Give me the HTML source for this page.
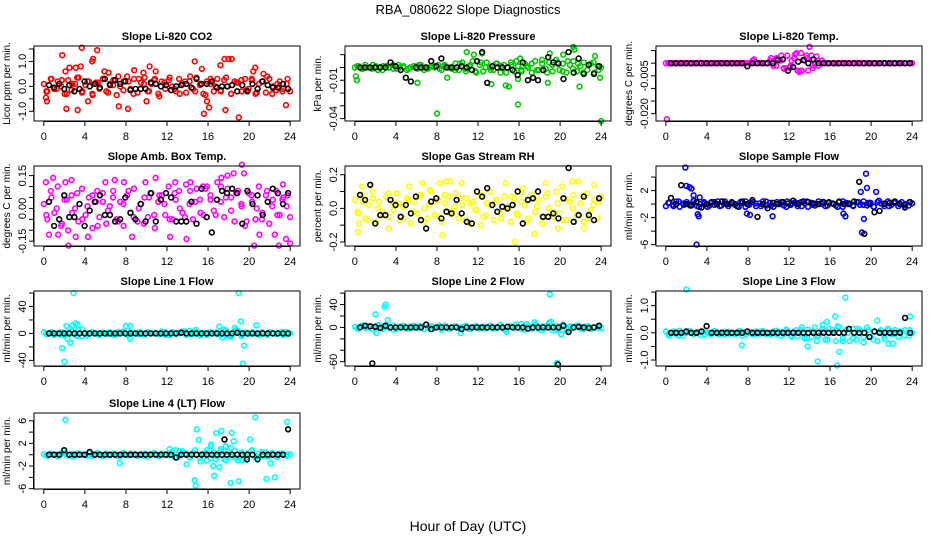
<!DOCTYPE html>
<html><head><meta charset="utf-8">
<style>
html,body{margin:0;padding:0;background:#fff;}
svg{display:block;font-family:"Liberation Sans",sans-serif;}
</style></head>
<body>
<svg id="chart" width="936" height="540" viewBox="0 0 936 540" xmlns="http://www.w3.org/2000/svg">
<rect width="936" height="540" fill="#fff"/>
<text x="468" y="14" text-anchor="middle" font-size="13">RBA_080622  Slope Diagnostics</text>
<text x="468" y="531" text-anchor="middle" font-size="14">Hour of Day (UTC)</text>
</svg>
<script>
// ---- data ----
const hourTicks = [0,4,8,12,16,20,24];

const co2Main = [0.1,-0.2,0.3,-0.1,0.2,0.0,-0.3,0.25,-0.15,0.1,0.35,-0.25,0.05,0.2,-0.3,0.15,-0.1,0.3,-0.2,0.1,0.25,-0.35,0.0,0.2,0.4,-0.1,0.3,-0.25,0.15,0.35,-0.2,0.1,0.3,-0.3,0.2,-0.1,0.25,0.0,-0.2,0.3,0.1,-0.25,0.2,-0.1,0.35,0.05,-0.3,0.2,0.1,-0.2,0.3,-0.15,0.25,0.0,-0.3,0.2,0.15,-0.2,0.3,-0.1,0.25,-0.3,0.1,0.2,-0.25,0.3,0.0,-0.15,0.2,-0.1,0.1,-0.2];
const co2Dense = [-0.2,0.3,-0.1,0.25,-0.3,0.1,0.35,-0.2,0.2,-0.35,0.15,0.3,-0.25,0.05,0.4,-0.15,0.2,-0.3,0.3,0.1,-0.2,0.25,-0.4,0.15,0.35,-0.1,-0.3,0.2,0.4,-0.2,0.1,-0.35,0.3,0.0,-0.2,0.35,-0.3,0.15,0.25,-0.15,0.3,-0.25,0.2,0.4,-0.3,0.1,-0.2,0.3];
const co2OutHours = [0.2,0.3,1.8,2.1,2.2,2.5,3.1,3.3,3.7,3.6,4.3,4.7,4.8,5.2,5.9,6.3,7.3,8.2,8.8,9.7,10.0,10.3,10.9,14.7,15.4,15.6,15.9,16.1,17.2,17.7,17.6,18.0,18.3,19.0,20.6,20.4,21.4,23.6];
const co2OutVals = [-0.45,-0.6,1.25,0.6,-0.9,0.75,0.75,-0.95,1.55,0.8,-0.6,1.0,1.1,1.45,0.6,0.55,-0.8,-0.9,0.65,0.55,-0.6,0.8,0.6,1.0,0.7,-1.1,-0.6,-0.85,0.85,-0.95,1.1,1.1,1.1,-1.25,0.75,0.6,0.5,-0.75];
const co2Black = [0.05,-0.05,0.1,-0.1,0.05,-0.2,-0.1,0.2,0.0,0.1,-0.05,0.3,0.05,0.25,0.1,0.2,-0.15,-0.1,-0.1,-0.1,0.15,0.1,0.0,0.05,-0.15,0.0,0.05,0.1,-0.05,0.3,0.1,0.1,0.2,-0.05,0.0,0.0,0.05,-0.2,0.05,-0.2,0.1,-0.1,0.2,0.05,-0.05,-0.05,0.1,-0.1];

const presMain = [0,0.001,-0.001,0.002,0,-0.001,0.001,0,-0.002,0.001,0,0.002,-0.001,0,0.001,-0.002,0,0.001,-0.001,0.002,0,-0.001,0.001,0,0.002,-0.002,0.001,0,-0.001,0.003,-0.002,0.004,-0.003,0.001,0.005,-0.004,0.002,-0.003,0.004,0,-0.002,0.003,-0.004,0.002,0,0.004,-0.003,0.001,-0.002,0.003,0,-0.004,0.005,-0.002,0.003,-0.001,0.004,-0.003,0.006,-0.002,0.003,-0.004,0.002,0.005,-0.003,0.001,0.004,-0.002,0.003,-0.004,0.001,0];
const presDense = [0.001,-0.001,0,0.002,-0.002,0.001,0,-0.001,0.002,0,-0.001,0.001,0.002,-0.002,0,0.001,-0.001,0.002,0,-0.002,0.003,-0.001,0.002,-0.003,0.004,0,-0.002,0.003,0.001,-0.004,0.002,0.005,-0.003,0.001,0.003,-0.002,0.006,-0.004,0.002,0.004,-0.003,0.005,-0.001,0.003,-0.004,0.002,0.004,-0.002];
const presOutHours = [0.1,0.2,6.1,8.0,9.0,10.9,11.6,12.4,13.3,14.7,15.0,15.9,15.9,16.1,18.8,19.0,20.3,21.3,21.4,21.9,23.4,23.9,24.0];
const presOutVals = [-0.007,-0.010,-0.012,-0.036,-0.008,0.012,0.010,0.011,-0.013,-0.014,-0.015,-0.009,-0.029,0.007,-0.012,0.011,0.010,0.016,0.014,-0.015,0.009,-0.008,-0.042];
const presBlack = [0,0,0,0,0,0,0.004,0.001,-0.002,-0.008,-0.011,0,0,0,0.005,0.001,0.007,0,0,0,0.001,0,-0.002,0.005,0.012,-0.012,0.001,0,0,0,-0.002,-0.006,0.004,-0.010,-0.008,-0.010,-0.002,0.008,0.004,0.003,-0.009,0.012,-0.004,0.007,-0.005,0.002,-0.005,0.001];

const tempMain = [0,0,0,0,0,0,0,0,0,0,0,0,0,0,0,0,0,0,0,0,0,0,0,0,0,0.001,0,0,0,0,0.001,-0.001,0.002,0.001,-0.002,0.003,-0.001,0.002,-0.003,0.004,0.001,-0.003,0.003,0,-0.001,0.001,0,0,0,0,0,0,0,0,0,0,0,0,0,0,0,0,0,0,0,0,0,0,0,0,0,0];
const tempDense = [0,0,0,0,0,0,0,0,0,0,0,0,0,0,0,0,0,0,0,0,0.002,-0.001,0.003,-0.002,0.001,0.004,-0.003,0.002,-0.001,0.001,0,0,0,0,0,0,0,0,0,0,0,0,0,0,0,0,0,0];
const tempOutHours = [0.1,8.6,10.8,11.5,12.1,12.6,13.0,13.2,13.7,14.0,14.3,14.7];
const tempOutVals = [-0.0222,0.0015,0.0015,-0.0022,-0.0016,0.0035,-0.0035,-0.003,0.003,0.0065,-0.002,0.0027];
const tempBlack = [0,0,0,0,0,0,0,0,0,0,0,0,0,0,0,-0.0012,0,0,0,0,0,0.0012,0.0015,-0.003,-0.0015,0.0006,0.0012,0,0.0015,0,0,0,0,0,0,0,0,0,0,0,0,0,0,0,0,0,0,0];

const ambMain = [0.02,-0.05,0.08,-0.02,0.1,-0.08,0.04,-0.1,0.06,0.0,-0.06,0.09,-0.03,0.05,-0.09,0.03,-0.04,0.07,-0.07,0.01,0.08,-0.05,0.03,-0.08,0.06,-0.02,0.09,-0.06,0.02,0.05,-0.04,0.07,-0.09,0.03,0.06,-0.03,0.1,-0.05,0.04,0.08,-0.02,0.11,0.02,-0.05,0.09,0.04,-0.03,0.1,0.06,-0.01,0.12,0.03,-0.04,0.09,0.05,-0.06,0.08,0.01,-0.08,0.07,0.03,-0.05,0.1,-0.02,0.06,-0.07,0.04,0.08,-0.03,0.05,0.01,-0.04];
const ambDense = [-0.03,0.05,0.0,-0.07,0.04,-0.02,0.07,-0.05,0.01,0.06,-0.08,0.03,-0.01,0.05,-0.06,0.02,0.08,-0.04,0.0,-0.07,0.05,-0.03,0.06,0.02,-0.05,0.07,0.0,-0.04,0.08,0.03,-0.02,0.09,0.04,-0.03,0.1,0.05,-0.01,0.07,0.02,-0.06,0.06,0.0,-0.05,0.08,0.01,-0.03,0.04,0.06];
const ambOutHours = [0.2,0.5,0.9,1.4,2.1,2.4,2.7,3.1,4.3,5.2,6.0,6.9,7.8,8.6,9.9,10.9,12.3,12.8,13.9,14.3,15.5,17.3,17.9,18.5,19.3,19.5,20.5,21.0,22.5,22.9,23.3,23.6,24.0];
const ambOutVals = [0.12,-0.12,0.14,-0.12,0.12,-0.17,0.13,-0.13,-0.13,0.08,0.12,0.13,0.12,-0.13,0.12,0.14,-0.13,0.12,-0.14,0.12,0.1,0.14,0.15,0.16,0.2,0.16,-0.17,-0.12,-0.12,-0.17,0.11,-0.14,-0.16];
const ambBlack = [0.03,-0.08,-0.05,0.06,-0.04,-0.04,0.02,-0.08,-0.01,0.03,0.06,-0.03,-0.03,-0.06,-0.05,0.05,-0.02,-0.05,0.02,-0.06,0.07,-0.06,0.04,0.07,0.05,-0.06,-0.06,-0.06,0.03,-0.07,0.09,-0.04,-0.11,0.04,0.08,0.07,0.09,0.07,-0.07,0.08,0.02,0.06,-0.03,0.03,0.09,0.07,0.02,0.07];

const rhMain = [0.05,-0.03,0.08,-0.06,0.02,0.1,-0.08,0.04,-0.02,0.07,-0.05,0.03,0.09,-0.07,0.01,0.06,-0.09,0.04,-0.03,0.08,0.0,-0.06,0.1,-0.04,0.05,-0.08,0.03,0.07,-0.02,0.09,-0.06,0.02,0.06,-0.09,0.04,-0.01,0.08,-0.05,0.03,0.1,-0.07,0.05,-0.03,0.07,0.01,-0.08,0.06,-0.04,0.09,0.02,-0.06,0.08,-0.02,0.05,-0.09,0.07,0.0,-0.05,0.1,-0.03,0.06,-0.07,0.04,0.08,-0.04,0.03,-0.08,0.09,-0.01,0.05,-0.06,0.07];
const rhDense = [-0.02,0.04,-0.07,0.06,0.0,-0.04,0.09,-0.01,0.03,-0.06,0.05,-0.02,0.07,-0.08,0.02,0.04,-0.05,0.08,-0.03,0.01,0.06,-0.07,0.03,-0.01,0.08,-0.04,0.02,0.05,-0.06,0.0,0.07,-0.03,0.04,-0.08,0.06,0.01,-0.05,0.09,-0.02,0.03,-0.07,0.05,0.0,-0.04,0.08,-0.06,0.02,0.04];
const rhOutHours = [0.3,0.4,0.7,3.3,5.3,6.6,7.3,8.3,8.5,8.9,9.3,10.4,12.3,14.7,15.6,16.4,17.5,18.6,19.8,20.2,21.2,21.8,22.3,23.3];
const rhOutVals = [-0.14,-0.09,0.13,-0.12,0.13,0.15,0.11,0.15,-0.16,0.16,0.16,0.15,-0.1,0.15,-0.2,0.12,-0.15,0.15,-0.12,0.13,0.16,0.16,-0.12,0.14];
const rhBlack = [0.08,0.05,0.14,-0.09,-0.04,-0.04,0.05,0.02,-0.05,0.02,-0.03,0.07,-0.07,-0.12,0.04,0.06,-0.06,-0.02,-0.03,0.05,-0.03,-0.08,-0.09,0.1,0.07,0.12,0.02,-0.02,0.01,0.0,0.02,0.1,-0.09,0.05,0.06,0.1,-0.05,-0.05,-0.03,-0.06,0.06,0.24,-0.08,-0.04,0.07,-0.04,-0.07,0.06];

const sampleMain = [-0.3,0.2,-0.1,0.4,-0.4,0.1,0.3,-0.2,0.5,-0.3,0.0,0.3,-0.4,0.2,-0.1,0.4,-0.2,0.1,-0.3,0.3,0.0,-0.4,0.2,0.4,-0.1,0.3,-0.3,0.1,0.4,-0.2,0.2,-0.4,0.3,0.0,-0.2,0.4,-0.1,0.2,-0.3,0.3,0.1,-0.4,0.2,-0.2,0.4,0.0,-0.3,0.3,0.1,-0.2,0.4,-0.4,0.2,0.0,-0.3,0.3,-0.1,0.4,-0.2,0.2,-0.4,0.3,0.1,-0.3,0.4,-0.1,0.2,-0.3,0.3,0.0,-0.2,0.1];
const sampleDense = [0.2,-0.3,0.4,-0.1,0.0,0.5,-0.4,0.1,-0.2,0.3,-0.3,0.4,0.0,-0.1,0.3,-0.4,0.2,0.1,-0.3,0.4,-0.2,0.0,0.3,-0.4,0.1,0.2,-0.3,0.4,-0.1,0.0,0.3,-0.2,0.1,-0.4,0.4,0.0,-0.2,0.3,-0.1,0.2,-0.4,0.5,0.0,-0.3,0.2,0.1,-0.2,0.3];
const sampleOutHours = [1.9,2.0,2.3,2.5,2.7,3.0,3.1,3.2,3.3,7.9,8.2,10.4,17.3,17.5,19.0,19.1,19.3,19.5,19.6,20.5];
const sampleOutVals = [5.4,2.7,2.5,2.3,1.3,-6.0,-1.5,-1.8,1.0,-1.4,-1.6,-1.8,-1.4,-1.8,1.8,-4.2,-2.2,4.5,2.4,1.8];
const sampleBlack = [0.9,0.0,2.8,0.0,-0.2,0.3,-0.5,0.0,0.3,0.0,0.4,0.0,0.2,-0.3,0.4,0.0,0.6,-1.9,0.0,-0.6,0.2,0.0,0.3,0.1,0.5,0.0,0.4,0.3,0.1,0.0,0.3,0.2,0.0,0.3,0.0,0.1,0.4,3.3,-4.4,0.0,-1.2,-1.0,0.1,0.2,0.4,0.0,-0.5,0.3];

const l1Main = [2,-1,1,-2,0,2,-3,1,4,-2,5,-4,1,-1,2,0,-2,1,-1,2,0,-1,1,3,-2,2,0,-1,1,-2,2,0,1,-1,3,-2,0,2,-1,1,3,-2,4,-1,2,0,1,-2,2,0,-1,3,6,-3,-5,2,4,-4,1,-1,2,0,-2,1,-1,2,0,-1,1,-2,2,0];
const l1Dense = [-1,2,0,-2,1,3,-4,6,-3,2,-1,1,0,-2,2,1,-1,0,2,-2,1,0,-1,2,-2,1,0,3,-1,2,-3,0,2,1,-2,4,-3,5,-2,1,0,-1,2,-2,1,0,2,-1];
const l1OutHours = [1.8,2.0,2.2,2.3,2.6,2.8,2.9,3.1,3.3,8.0,8.4,8.4,14.8,17.1,17.4,18.6,19.0,19.2,19.4,19.5,20.7];
const l1OutVals = [-22,-42,11,-8,-14,12,60,15,13,11,11,-8,5,10,-6,8,60,18,-45,-18,12];
const l1Black = [0,0,0,0,0,0,0,0,0,0,0,0,0,0,0,0,0,0,0,0,0,0,0,0,0,0,1,0,0,0,0,0,0,0,0,0,0,1,0,0,0,0,0,0,0,0,0,0];

const l2Main = [1,-2,3,-1,2,-3,0,4,-2,1,-1,3,-3,2,0,-2,1,3,-1,2,-3,0,2,-1,1,-4,3,-2,0,2,-1,1,3,-3,0,2,-2,1,-1,3,-2,0,4,-3,1,2,-1,0,6,-4,3,-2,5,-3,2,-1,8,-5,3,-2,4,-6,2,-1,3,-2,1,2,-3,0,2,-1];
const l2Dense = [-2,3,0,-3,4,-1,2,-4,1,3,-2,0,2,-3,1,-1,3,0,-2,2,-1,1,-3,2,0,-2,3,-1,4,-4,2,5,-3,6,-2,3,-5,4,0,-4,5,-2,1,3,-3,2,0,-1];
const l2OutHours = [2.0,2.1,2.9,3.0,3.2,10.3,14.8,17.5,19.0,19.1,19.7,20.1];
const l2OutVals = [23,-10,36,40,13,-10,-8,9,58,10,-62,-12];
const l2Black = [0,3,2,1,-1,3,0,0,0,0,0,0,0,5,-3,0,0,0,0,0,-3,0,0,0,0,0,0,0,0,1,0,0,0,-2,0,0,0,0,0,0,3,-8,0,1,0,-1,0,3];
const l2BlackOutHours = [1.7,19.8];
const l2BlackOutVals = [-63,-65];

const l3Main = [0.05,-0.1,0.0,-0.05,0.08,-0.1,0.0,0.05,-0.05,0.03,-0.08,0.05,0.0,-0.05,0.06,-0.04,0.02,-0.06,0.04,0.0,-0.05,0.05,-0.1,0.03,0.0,-0.06,0.05,-0.03,0.06,-0.05,0.0,0.05,-0.06,0.04,-0.05,0.08,-0.1,0.05,-0.12,0.1,-0.2,0.12,-0.15,0.2,-0.1,0.05,-0.25,0.15,0.0,-0.3,0.2,-0.2,0.1,-0.3,0.15,-0.25,0.1,-0.35,0.2,-0.15,0.05,-0.3,0.1,-0.2,0.15,-0.05,0.1,-0.15,0.05,0.1,-0.1,0.0];
const l3Dense = [-0.05,0.05,-0.1,0.0,0.06,-0.04,0.03,-0.06,0.0,0.05,-0.05,0.04,-0.03,0.0,0.06,-0.05,0.02,-0.04,0.05,0.0,-0.06,0.08,-0.1,0.12,-0.15,0.1,0.2,-0.2,0.05,-0.1,0.15,-0.25,0.1,0.25,-0.3,0.0,-0.2,0.15,-0.15,0.1,-0.25,0.05,-0.1,0.1,-0.05,0.05,-0.1,0.1];
const l3OutHours = [2.0,7.4,13.8,14.7,14.8,15.3,15.7,16.5,16.7,16.9,17.5,20.6,21.7,22.1,23.8];
const l3OutVals = [1.6,-0.45,-0.5,-0.3,-1.05,0.3,0.4,0.6,-1.2,-0.7,1.3,0.45,-0.4,-0.4,0.6];
const l3Black = [0.0,0.0,0.0,0.05,0.0,0.0,0.05,0.25,0.0,0.0,0.0,0.0,0.0,0.0,0.0,0.05,0.0,0.0,0.0,0.0,0.0,0.0,0.0,0.0,0.0,0.0,0.0,0.0,0.0,0.0,0.0,0.0,0.0,0.0,0.0,0.15,0.0,0.0,0.0,-0.15,0.05,0.0,0.0,0.0,0.0,0.0,0.55,0.0];

const l4Main = [0.1,-0.2,0.2,0.0,-0.3,0.2,0.3,-0.1,0.1,-0.2,0.2,0.0,-0.1,0.3,-0.2,0.1,0.0,-0.3,0.2,-0.1,0.1,0.0,-0.2,0.3,-0.1,0.2,0.0,-0.2,0.1,0.2,-0.3,0.1,0.0,-0.2,0.2,0.1,-0.1,0.5,0.8,-0.3,0.6,0.2,-0.4,0.3,0.1,-0.5,0.2,0.8,-0.6,0.4,-0.3,1.0,-0.8,0.5,-0.4,0.7,-1.0,0.4,-0.6,0.3,0.8,-0.5,0.2,-0.3,0.4,-0.2,0.1,-0.3,0.2,0.0,-0.2,0.1];
const l4Dense = [-0.2,0.1,0.0,0.3,-0.1,-0.3,0.2,0.0,-0.2,0.1,0.3,-0.1,0.0,0.2,-0.3,0.1,-0.1,0.2,0.0,-0.2,0.1,0.3,-0.2,0.0,1.0,-0.4,0.6,0.2,-0.5,0.8,-1.2,0.3,1.5,-0.8,0.6,-1.0,1.2,-0.6,0.4,-0.9,0.7,-0.3,0.5,-0.2,0.3,-0.4,0.2,0.0];
const l4OutHours = [2.1,7.4,13.9,14.7,14.8,14.9,15.1,15.9,16.3,16.5,16.6,16.8,17.1,17.3,17.7,18.2,18.3,18.5,19.0,19.3,20.1,20.6,21.7,22.1,22.5,23.7];
const l4OutVals = [6.2,-1.5,-1.7,-4.5,-5.5,4.5,2.6,-1.0,1.8,-2.0,-3.7,3.8,-2.2,4.2,1.5,-5.0,3.9,2.4,-4.7,-1.0,2.7,6.6,-4.3,-1.5,-4.0,5.8];
const l4Black = [0,0,0,0.8,0,0,0,0,0.5,0,0,0,0,0,0,0,0,0,0,0,0,0,0,0,0,-0.5,0,0,0,0,0,0,0,0,0,0,0,0,0,0,0,-0.8,0,0,0,0,0,4.5];
const l4BlackOutHours = [17.6,19.8];
const l4BlackOutVals = [2.7,-0.8];

// ---- layout ----
const svg = document.getElementById('chart');
const NS = 'http://www.w3.org/2000/svg';
function mk(tag, attrs, parent){const e=document.createElementNS(NS,tag);for(const k in attrs)e.setAttribute(k,attrs[k]);(parent||svg).appendChild(e);return e;}

const cols = [34,345,656];
const rows = [[46,121],[166,246],[291,366],[413,489]];
const BOXW = 266;

const panels = [
 {key:'co2',title:'Slope Li-820 CO2',ylab:'Licor ppm per min.',col:0,row:0,dom:[-1.39,1.62],ticks:[-1,-0.5,0,0.5,1,1.5],labels:[[-1,'-1.0'],[0,'0.0'],[1,'1.0']],color:'#ff0000',main:co2Main,dense:co2Dense,oh:co2OutHours,ov:co2OutVals,black:co2Black},
 {key:'pressure',title:'Slope Li-820 Pressure',ylab:'kPa per min.',col:1,row:0,dom:[-0.0419,0.0168],ticks:[-0.04,-0.03,-0.02,-0.01,0,0.01],labels:[[-0.04,'-0.04'],[-0.01,'-0.01']],color:'#00c800',main:presMain,dense:presDense,oh:presOutHours,ov:presOutVals,black:presBlack},
 {key:'temp',title:'Slope Li-820 Temp.',ylab:'degrees C per min.',col:2,row:0,dom:[-0.0229,0.0068],ticks:[-0.02,-0.015,-0.01,-0.005,0,0.005],labels:[[-0.02,'-0.020'],[-0.005,'-0.005']],color:'#ff00ff',main:tempMain,dense:tempDense,oh:tempOutHours,ov:tempOutVals,black:tempBlack},
 {key:'amb',title:'Slope Amb. Box Temp.',ylab:'degrees C per min.',col:0,row:1,dom:[-0.172,0.194],ticks:[-0.15,-0.1,-0.05,0,0.05,0.1,0.15],labels:[[-0.15,'-0.15'],[0,'0.00'],[0.15,'0.15']],color:'#ff00ff',main:ambMain,dense:ambDense,oh:ambOutHours,ov:ambOutVals,black:ambBlack},
 {key:'rh',title:'Slope Gas Stream RH',ylab:'percent per min.',col:1,row:1,dom:[-0.224,0.252],ticks:[-0.2,-0.1,0,0.1,0.2],labels:[[-0.2,'-0.2'],[0,'0.0'],[0.2,'0.2']],color:'#ffff00',main:rhMain,dense:rhDense,oh:rhOutHours,ov:rhOutVals,black:rhBlack},
 {key:'sample',title:'Slope Sample Flow',ylab:'ml/min per min.',col:2,row:1,dom:[-6.2,5.64],ticks:[-6,-4,-2,0,2,4],labels:[[-6,'-6'],[-2,'-2'],[2,'2']],color:'#0000ff',main:sampleMain,dense:sampleDense,oh:sampleOutHours,ov:sampleOutVals,black:sampleBlack},
 {key:'line1',title:'Slope Line 1 Flow',ylab:'ml/min per min.',col:0,row:2,dom:[-48.4,63],ticks:[-40,-20,0,20,40,60],labels:[[-40,'-40'],[0,'0'],[40,'40']],color:'#00ffff',main:l1Main,dense:l1Dense,oh:l1OutHours,ov:l1OutVals,black:l1Black},
 {key:'line2',title:'Slope Line 2 Flow',ylab:'ml/min per min.',col:1,row:2,dom:[-67.6,63.8],ticks:[-60,-40,-20,0,20,40,60],labels:[[-60,'-60'],[0,'0'],[40,'40']],color:'#00ffff',main:l2Main,dense:l2Dense,oh:l2OutHours,ov:l2OutVals,black:l2Black,boh:l2BlackOutHours,bov:l2BlackOutVals},
 {key:'line3',title:'Slope Line 3 Flow',ylab:'ml/min per min.',col:2,row:2,dom:[-1.22,1.54],ticks:[-1,-0.5,0,0.5,1,1.5],labels:[[-1,'-1.0'],[0,'0.0'],[1,'1.0']],color:'#00ffff',main:l3Main,dense:l3Dense,oh:l3OutHours,ov:l3OutVals,black:l3Black},
 {key:'line4',title:'Slope Line 4 (LT) Flow',ylab:'ml/min per min.',col:0,row:3,dom:[-6.06,7.38],ticks:[-6,-4,-2,0,2,4,6],labels:[[-6,'-6'],[-2,'-2'],[2,'2'],[6,'6']],color:'#00ffff',main:l4Main,dense:l4Dense,oh:l4OutHours,ov:l4OutVals,black:l4Black,boh:l4BlackOutHours,bov:l4BlackOutVals}
];

panels.forEach(p=>{
  const x0 = cols[p.col], x1 = x0+BOXW;
  const y0 = rows[p.row][0], y1 = rows[p.row][1];
  const xs = h => x0 + (h+0.96)/25.92*BOXW;
  const ys = v => y1 - (v-p.dom[0])/(p.dom[1]-p.dom[0])*(y1-y0);
  const g = mk('g',{});
  
  
  const t = mk('text',{x:(x0+x1)/2,y:y0-6,'text-anchor':'middle','font-size':11,'font-weight':'bold'},g);
  t.textContent = p.title;
  
  
  const pts = mk('g',{fill:'none','stroke-width':1.6},g);
  
  
  const dot = (h,v,c)=>{
    const c1 = mk('circle',{cx:xs(h).toFixed(1),cy:ys(v).toFixed(1),r:2.4,stroke:c},pts);
    
    
  };
  p.main.forEach((v,i)=>dot(i*24/(p.main.length-1), v, p.color));
  p.dense.forEach((v,i)=>dot((i+0.5)*24/p.dense.length, v, p.color));
  p.oh.forEach((h,i)=>{ if(i<p.ov.length) dot(h,p.ov[i],p.color); });
  p.black.forEach((v,i)=>dot(0.5+i*23.3/(p.black.length-1), v, '#000'));
  if(p.boh) p.boh.forEach((h,i)=>dot(h,p.bov[i],'#000'));
  const box = mk('rect',{x:x0,y:y0,width:BOXW,height:y1-y0,fill:'none',stroke:'#000','stroke-width':1},g);
  
  
  const xa = mk('g',{},g);
  
  
  mk('line',{x1:xs(0),x2:xs(24),y1:y1+0.5,y2:y1+0.5,stroke:'#000'},xa);
  hourTicks.forEach(h=>{
    mk('line',{x1:xs(h),x2:xs(h),y1:y1,y2:y1+5,stroke:'#000'},xa);
    const tl = mk('text',{x:xs(h),y:y1+19,'text-anchor':'middle','font-size':11},xa);
    tl.textContent = h;
    
    
  });
  const ya = mk('g',{},g);
  
  
  const tk = p.ticks.filter(v=>v>=p.dom[0]&&v<=p.dom[1]);
  mk('line',{x1:x0-0.5,x2:x0-0.5,y1:ys(Math.min(...tk)),y2:ys(Math.max(...tk)),stroke:'#000'},ya);
  tk.forEach(v=>mk('line',{x1:x0-5,x2:x0,y1:ys(v),y2:ys(v),stroke:'#000'},ya));
  p.labels.forEach(([v,s])=>{
    const yy = ys(v);
    const tl = mk('text',{x:x0-8,y:yy,'text-anchor':'middle','font-size':11,transform:`rotate(-90 ${x0-8} ${yy})`},ya);
    tl.textContent = s;
    
    
  });
  const yl = mk('text',{x:x0-24,y:(y0+y1)/2,'text-anchor':'middle','font-size':10,transform:`rotate(-90 ${x0-24} ${(y0+y1)/2})`},ya);
  yl.textContent = p.ylab;
  
  
});
</script>
</body></html>
